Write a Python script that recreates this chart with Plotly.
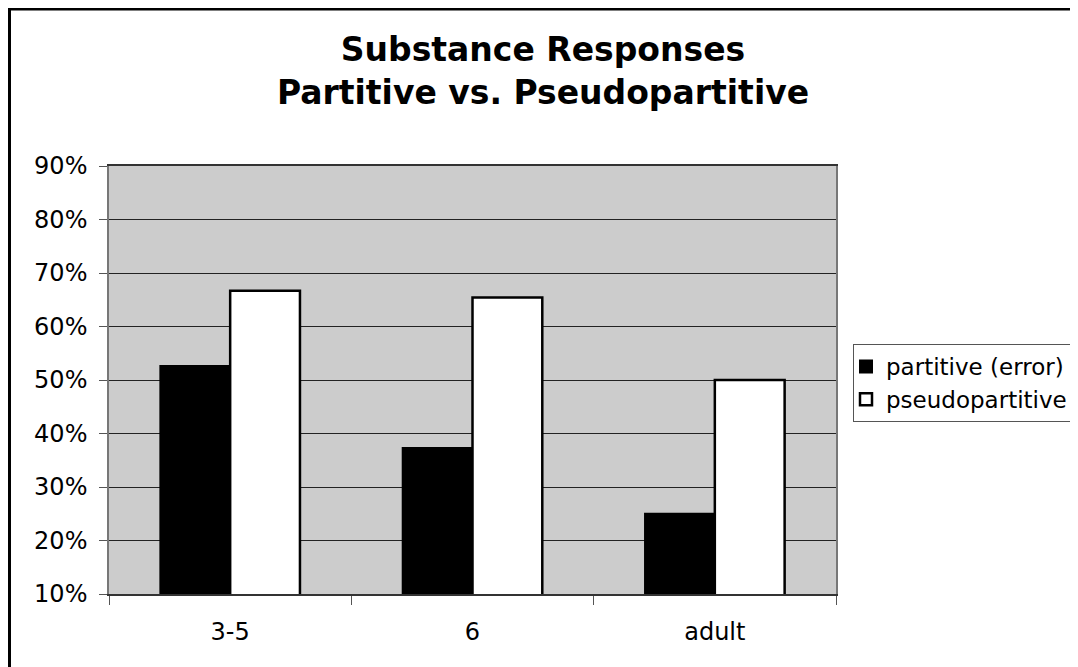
import plotly.graph_objects as go

categories = ["3-5", "6", "adult"]
partitive_error = [0.526, 0.373, 0.250]
pseudopartitive = [0.667, 0.654, 0.500]
y_ticks = [0.1, 0.2, 0.3, 0.4, 0.5, 0.6, 0.7, 0.8, 0.9]
y_tick_labels = ["10%", "20%", "30%", "40%", "50%", "60%", "70%", "80%", "90%"]

FONT = "DejaVu Sans, Verdana, sans-serif"

fig = go.Figure()
fig.add_trace(go.Bar(
    x=categories, y=partitive_error, name="partitive (error)",
    marker=dict(color="#000000", line=dict(color="#000000", width=2)),
))
fig.add_trace(go.Bar(
    x=categories, y=pseudopartitive, name="pseudopartitive",
    marker=dict(color="#FFFFFF", line=dict(color="#000000", width=2.5)),
))

# page has an 8px body margin; work in screen coords and convert
OFF = 8
W, H = 1078 - OFF, 667 - OFF
SL, SR, ST, SB = 109, 836, 166, 594  # plot area in screen px
L, T = SL - OFF, ST - OFF
R = W - (SR - OFF)
B = H - (SB - OFF)
pw, ph = SR - SL, SB - ST

def px(x):
    return (x - SL) / pw

def py(y):
    return (SB - y) / ph

fig.update_layout(
    width=W, height=H,
    margin=dict(l=L, r=R, t=T, b=B, pad=0, autoexpand=False),
    paper_bgcolor="#FFFFFF",
    plot_bgcolor="#CCCCCC",
    barmode="group",
    bargap=0.424,
    bargroupgap=0,
    font=dict(family=FONT, size=24, color="#000000"),
    title=dict(
        text="<b>Substance Responses<br>Partitive vs. Pseudopartitive</b>",
        x=0.5, xanchor="center", xref="container",
        y=1 - 53 / H, yanchor="top", yref="container",
        font=dict(family=FONT, size=33, color="#000000"),
    ),
    legend=dict(
        x=px(853), xanchor="left", y=py(344), yanchor="top",
        bgcolor="#FFFFFF", bordercolor="#555555", borderwidth=1,
        font=dict(family=FONT, size=23, color="#000000"),
        indentation=-8,
        traceorder="normal",
    ),
    xaxis=dict(
        type="category",
        showline=True, linecolor="#333333", linewidth=1.5,
        mirror=True,
        ticks="outside", tickson="boundaries", ticklen=9, tickcolor="#555555", tickwidth=1,
        ticklabelstandoff=15,
        showgrid=False,
        tickfont=dict(family=FONT, size=24, color="#000000"),
    ),
    yaxis=dict(
        range=[0.1, 0.9],
        tickvals=y_ticks, ticktext=y_tick_labels,
        showline=True, linecolor="#777777", linewidth=1.5,
        mirror=True,
        ticks="outside", ticklen=8, tickcolor="#555555", tickwidth=1,
        ticklabelstandoff=7,
        showgrid=True, gridcolor="#222222", gridwidth=1,
        zeroline=False,
        tickfont=dict(family=FONT, size=24, color="#000000"),
    ),
    showlegend=True,
)

# outer chart frame (cropped on right and bottom)
fig.add_shape(
    type="rect", xref="paper", yref="paper",
    x0=px(9.5), x1=px(1095), y0=py(690), y1=py(9),
    line=dict(color="#000000", width=3), fillcolor="rgba(0,0,0,0)",
    layer="below",
)

fig.write_html("out.html")
